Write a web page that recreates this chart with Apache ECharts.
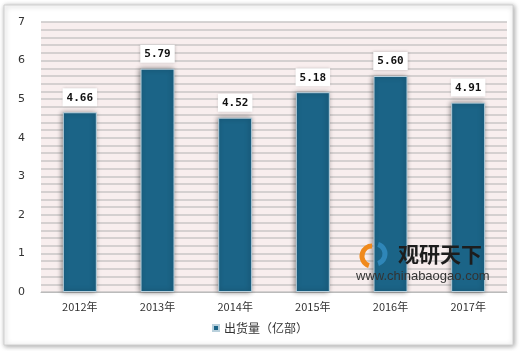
<!DOCTYPE html>
<html>
<head>
<meta charset="utf-8">
<script src="https://cdn.jsdelivr.net/npm/echarts@6/dist/echarts.min.js"></script>
<style>
  html, body { margin: 0; padding: 0; background: #fff; }
  #main { width: 520px; height: 351px; }
</style>
</head>
<body>
<div id="main"></div>
<script>
var years = ['2012年', '2013年', '2014年', '2015年', '2016年', '2017年']
var shipments = [4.66, 5.79, 4.52, 5.18, 5.60, 4.91]
var seriesName = '出货量（亿部）'

var chart = echarts.init(document.getElementById('main'))

var gridLine = { color: '#c9c6c6', width: 1.5 }

var option = {
  animation: false,
  textStyle: { fontFamily: 'DejaVu Sans, Noto Sans CJK SC' },
  graphic: [
    // outer frame
    {
      type: 'rect',
      z: -10,
      shape: { x: 4, y: 5, width: 509, height: 340 },
      style: {
        fill: '#fff',
        stroke: '#d0d0d0',
        lineWidth: 1,
        shadowBlur: 5,
        shadowColor: 'rgba(0,0,0,0.35)',
        shadowOffsetX: 1,
        shadowOffsetY: 1
      }
    },
    // watermark
    {
      type: 'arc',
      z: 100,
      shape: { cx: 372, cy: 256, r: 10, startAngle: Math.PI * 0.6, endAngle: Math.PI * 1.5 },
      style: { stroke: '#f08a1c', lineWidth: 5, fill: null }
    },
    {
      type: 'arc',
      z: 100,
      shape: { cx: 375, cy: 254, r: 10, startAngle: Math.PI * 1.6, endAngle: Math.PI * 2.4 },
      style: { stroke: '#2f86b8', lineWidth: 5, fill: null }
    },
    {
      type: 'text',
      z: 100,
      style: {
        x: 398, y: 244,
        text: '观研天下',
        fill: '#1d1d1d',
        font: 'bold 21px "Noto Sans CJK SC"'
      }
    },
    {
      type: 'text',
      z: 100,
      style: {
        x: 356, y: 270,
        text: 'www.chinabaogao.com',
        fill: '#333',
        font: '13px "Liberation Sans"'
      }
    }
  ],
  grid: { left: 41, right: 13, top: 22, bottom: 59, backgroundColor: '#f8eeee', show: true, borderWidth: 0 },
  legend: {
    bottom: 12,
    left: 'center',
    itemWidth: 6,
    itemHeight: 6,
    itemGap: 3,
    icon: 'rect',
    textStyle: { fontSize: 12, color: '#333', fontFamily: 'Noto Sans CJK SC' },
    data: [seriesName]
  },
  xAxis: {
    type: 'category',
    data: years,
    axisLine: { lineStyle: { color: '#bbb', width: 1 } },
    axisTick: { show: false },
    splitLine: { show: false },
    splitArea: { show: false },
    minorSplitLine: { show: false },
    axisLabel: { color: '#333', fontSize: 11, margin: 9, fontFamily: 'Noto Sans CJK SC' }
  },
  yAxis: {
    type: 'value',
    min: 0,
    max: 7,
    interval: 1,
    axisLine: { show: false },
    axisTick: { show: false },
    axisLabel: { color: '#333', fontSize: 11, margin: 16 },
    splitLine: { lineStyle: gridLine },
    minorTick: { show: false, splitNumber: 5 },
    minorSplitLine: { show: true, lineStyle: gridLine }
  },
  series: [
    {
      name: seriesName,
      type: 'bar',
      data: shipments,
      barWidth: 34,
      itemStyle: {
        color: '#1b6487',
        borderColor: '#b9d0dc',
        borderWidth: 1,
        shadowBlur: 5,
        shadowColor: 'rgba(0,0,0,0.45)',
        shadowOffsetX: -1
      },
      label: {
        show: true,
        position: 'top',
        distance: 6,
        formatter: function (p) { return p.value.toFixed(2) },
        color: '#111',
        fontWeight: 'bold',
        fontSize: 11,
        fontFamily: 'DejaVu Sans Mono',
        backgroundColor: '#fff',
        padding: [4, 4, 3, 4],
        shadowBlur: 3,
        shadowColor: 'rgba(0,0,0,0.25)'
      }
    }
  ]
}

chart.setOption(option)
</script>
</body>
</html>
